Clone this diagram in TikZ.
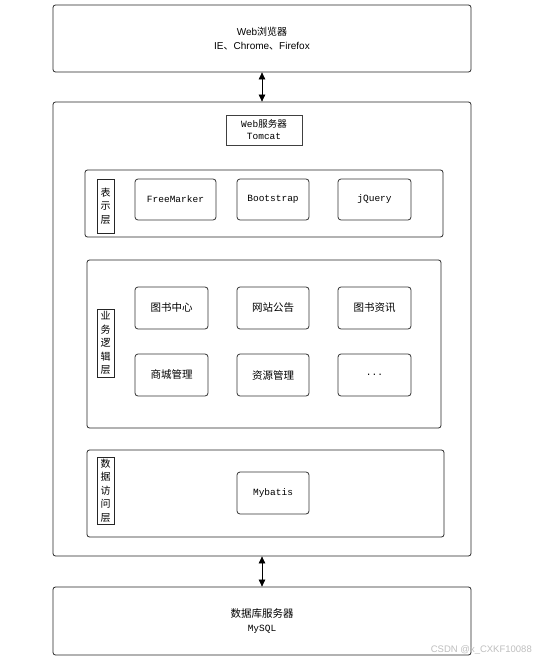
\documentclass[tikz,border=0pt]{standalone}
\usepackage{fontspec}
\setmainfont{Liberation Sans}
\setmonofont{Liberation Mono}
\newfontfamily\cjk{Noto Sans CJK SC}
\usetikzlibrary{arrows.meta}
\tikzset{
  outerbox/.style={draw=black!85, rounded corners=2.5pt, line width=0.8pt, inner sep=0pt},
  itembox/.style={draw=black!80, rounded corners=3pt, line width=0.8pt, inner sep=0pt,
    font=\fontsize{9.5}{12}\ttfamily, align=center},
  cjkitem/.style={itembox, font=\cjk\fontsize{10.5}{12}\selectfont},
  labbox/.style={draw=black!85, line width=0.6pt, inner sep=0pt, align=center,
    font=\cjk\fontsize{10}{13.5}\selectfont},
  biarrow/.style={{Triangle[width=6.5pt,length=7pt]}-{Triangle[width=6.5pt,length=7pt]}, line width=0.7pt},
}
\begin{document}
\begin{tikzpicture}[x=1pt,y=-1pt]
\useasboundingbox[fill=white] (0,0) rectangle (536,663);
% browser
\node[outerbox, minimum width=418, minimum height=67, align=center,
  font=\fontsize{10}{14}\selectfont] (browser) at (262,38.5)
  {Web{\cjk 浏览器}\\IE{\cjk 、}Chrome{\cjk 、}Firefox};
% server
\node[outerbox, minimum width=418, minimum height=454] (server) at (262,329) {};
\node[draw=black!75, line width=0.8pt, minimum width=76, minimum height=30, inner sep=0pt,
  align=center, font=\fontsize{9.5}{12}\ttfamily] (tomcat) at (264,130)
  {Web{\cjk 服务器}\\Tomcat};
% presentation layer
\node[outerbox, minimum width=358, minimum height=67] (pres) at (264,203.5) {};
\node[labbox, minimum width=17, minimum height=54] (preslab) at (105.5,206) {表\\示\\层};
\node[itembox, minimum width=81, minimum height=41] (fm) at (175.5,199.5) {FreeMarker};
\node[itembox, minimum width=72, minimum height=41] (bs) at (273,199.5) {Bootstrap};
\node[itembox, minimum width=73, minimum height=41] (jq) at (374.5,199.5) {jQuery};
% business layer
\node[outerbox, minimum width=354, minimum height=168] (biz) at (264,344) {};
\node[labbox, minimum width=17, minimum height=68] (bizlab) at (105.5,343) {业\\务\\逻\\辑\\层};
\node[cjkitem, minimum width=73, minimum height=42] (b1) at (171.5,308) {图书中心};
\node[cjkitem, minimum width=72, minimum height=42] (b2) at (273,308) {网站公告};
\node[cjkitem, minimum width=73, minimum height=42] (b3) at (374.5,308) {图书资讯};
\node[cjkitem, minimum width=73, minimum height=42] (b4) at (171.5,375) {商城管理};
\node[cjkitem, minimum width=72, minimum height=42] (b5) at (273,375) {资源管理};
\node[itembox, minimum width=73, minimum height=42] (b6) at (374.5,375) {...};
% data access layer
\node[outerbox, minimum width=357, minimum height=87] (dal) at (265.5,493.5) {};
\node[labbox, minimum width=17, minimum height=67] (dallab) at (105.5,490.5) {数\\据\\访\\问\\层};
\node[itembox, minimum width=72, minimum height=42] (mb) at (273,493) {Mybatis};
% database
\node[outerbox, minimum width=418, minimum height=68, align=center,
  font=\fontsize{9.5}{14}\ttfamily] (db) at (262,621)
  {{\cjk\fontsize{10.5}{14}\selectfont 数据库服务器}\\MySQL};
% connectors
\draw[biarrow] (browser.south) -- (server.north);
\draw[biarrow] (server.south) -- (db.north);
% watermark
\node[anchor=east, text=black!25, font=\fontsize{9.5}{11}\selectfont, inner sep=0pt] (wm) at (532,650) {CSDN @x\_CXKF10088};
\end{tikzpicture}
\end{document}
